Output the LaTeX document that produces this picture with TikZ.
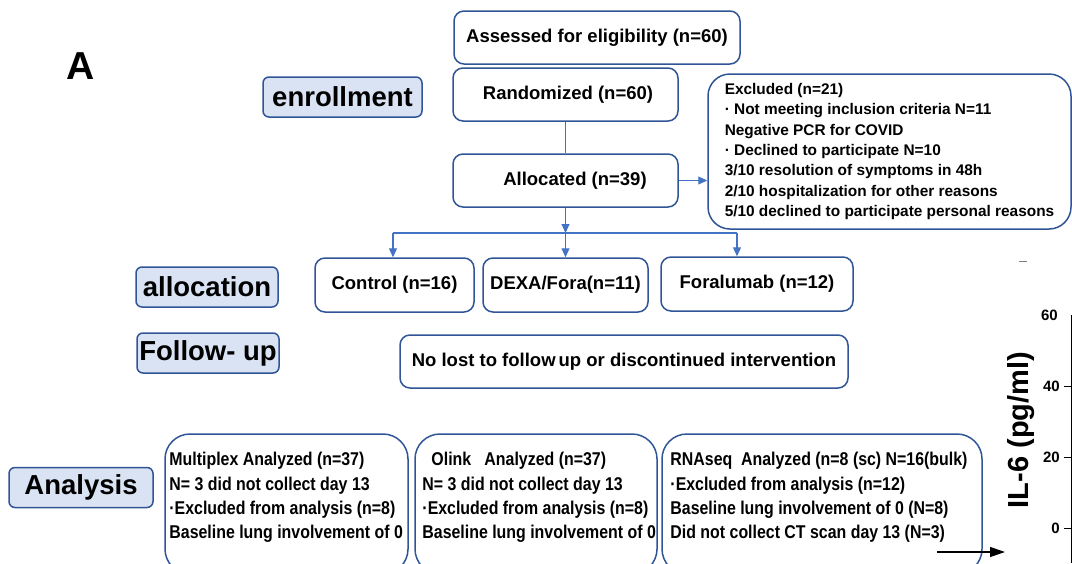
\documentclass[tikz,border=0pt]{standalone}
\usepackage{fontspec}
\setmainfont{Liberation Sans}
\newfontfamily\narrowsans[FakeStretch=0.86]{Liberation Sans}
\usetikzlibrary{arrows.meta, positioning}
\definecolor{boxblue}{RGB}{47,85,151}
\definecolor{arrowblue}{RGB}{68,114,196}
\definecolor{stagefill}{RGB}{218,227,243}

\begin{document}
\begin{tikzpicture}[x=1pt, y=-1pt,
  flowbox/.style={draw=boxblue, line width=1.5pt, rounded corners=10pt, minimum height=53pt, inner sep=0pt, font=\fontsize{18.5}{22}\selectfont\bfseries},
  stagebox/.style={draw=boxblue, fill=stagefill, line width=1.5pt, rounded corners=6pt, minimum height=40pt, inner sep=0pt, font=\fontsize{27.5}{30}\selectfont\bfseries},
  databox/.style={draw=boxblue, line width=1.5pt, rounded corners=25pt, minimum height=140pt, inner sep=0pt},
  datatext/.style={anchor=north west, inner sep=0pt, align=left, font=\narrowsans\fontsize{18.5}{24.3}\selectfont\bfseries},
  flow/.style={arrowblue, line width=1.1pt},
  flowarrow/.style={flow, -{Triangle[length=9pt,width=8pt]}},
  ticklabel/.style={anchor=east, inner sep=0pt, font=\fontsize{15}{15}\selectfont\bfseries}]

\useasboundingbox (0,0) rectangle (1072,563);

\node [font=\fontsize{39}{39}\selectfont\bfseries] (panel) at (81,66) {A};

\node [stagebox, minimum width=159pt] (enroll)   at (342.5,97)  {enrollment};
\node [stagebox, minimum width=142pt] (alloclab) at (207,287)   {allocation};
\node [stagebox, minimum width=142pt] (follow)   at (208,353)   {Follow- up};
\node [stagebox, minimum width=144pt] (analysis) at (81,487.5)  {Analysis};

\node [flowbox, minimum width=286pt] (assess)  at (597,37.5)    {Assessed for eligibility (n=60)};
\node [flowbox, minimum width=225pt] (rand)    at (565.5,94.5)  {\hspace*{5pt}Randomized (n=60)};
\node [flowbox, minimum width=225pt] (alloc)   at (565.5,180.5) {\hspace*{19pt}Allocated (n=39)};
\node [flowbox, rounded corners=22pt, minimum width=363pt, minimum height=155pt, align=left,
       font=\fontsize{15.4}{20.3}\selectfont\bfseries] (excl) at (889.5,151.5)
  {Excluded (n=21)\\
   · Not meeting inclusion criteria N=11\\
   Negative PCR for COVID\\
   · Declined to participate N=10\\
   3/10 resolution of symptoms in 48h\\
   2/10 hospitalization for other reasons\\
   5/10 declined to participate personal reasons};

\node [flowbox, minimum width=159pt, minimum height=54pt] (control) at (394.5,285) {Control (n=16)};
\node [flowbox, minimum width=165pt, minimum height=54pt] (dexa)    at (565.5,285) {DEXA/Fora(n=11)};
\node [flowbox, minimum width=192pt, minimum height=54pt] (fora)    at (757,284)   {Foralumab (n=12)};
\node [flowbox, minimum width=448pt] (nolost) at (624,361.5) {No lost to follow\hspace{3pt}up or discontinued intervention};

\draw [flow] (rand.south) -- (alloc.north);
\draw [flowarrow] (alloc.east) -- (alloc.east -| excl.west);
\coordinate (split)  at (565.5,233);
\coordinate (splitL) at (393,233);
\coordinate (splitR) at (737,233);
\draw [flowarrow] (alloc.south) -- (split);
\draw [flow] (splitL) -- (splitR);
\draw [flowarrow] (splitL) -- (splitL |- control.north);
\draw [flowarrow] (split) -- (dexa.north);
\draw [flowarrow] (splitR) -- (splitR |- fora.north);

\node [databox, minimum width=243pt] (multi) at (286.5,504) {};
\node [databox, minimum width=242pt] (olink) at (536,504)   {};
\node [databox, minimum width=320pt] (rnaseq) at (822,504)  {};
\node [datatext] (multitext) at ([shift={(5,19)}]multi.north west)
  {Multiplex Analyzed (n=37)\\ N= 3 did not collect day 13\\ ·Excluded from analysis (n=8)\\ Baseline lung involvement of 0};
\node [datatext] (olinktext) at ([shift={(8,19)}]olink.north west)
  {\hspace*{9pt}Olink\ \ \ Analyzed (n=37)\\ N= 3 did not collect day 13\\ ·Excluded from analysis (n=8)\\ Baseline lung involvement of 0};
\node [datatext] (rnaseqtext) at ([shift={(9,19)}]rnaseq.north west)
  {RNAseq\ \ Analyzed (n=8 (sc) N=16(bulk)\\ ·Excluded from analysis (n=12)\\ Baseline lung involvement of 0 (N=8)\\ Did not collect CT scan day 13 (N=3)};

\coordinate (ctstart) at (937,552);
\coordinate (ctend)   at (1005,552);
\draw [line width=1.2pt, -{Triangle[length=15pt,width=10pt]}] (ctstart) -- (ctend);

\draw [gray, line width=1pt] (1019,261) -- (1027,261);
\node [rotate=90, font=\fontsize{29}{29}\selectfont\bfseries] (ylabel) at (1021,430) {IL-6 (pg/ml)};
\coordinate (axtop) at (1071,315);
\coordinate (axbot) at (1071,563);
\draw [line width=1pt] (axtop) -- (axbot);
\node [ticklabel] (tick60) at (1058,315) {60};
\foreach \v/\y in {40/386, 20/457, 0/528} {
  \draw [line width=1pt] (1064,\y) -- (1071,\y);
  \node [ticklabel] (tick\v) at (1060,\y) {\v};
}
\end{tikzpicture}
\end{document}
